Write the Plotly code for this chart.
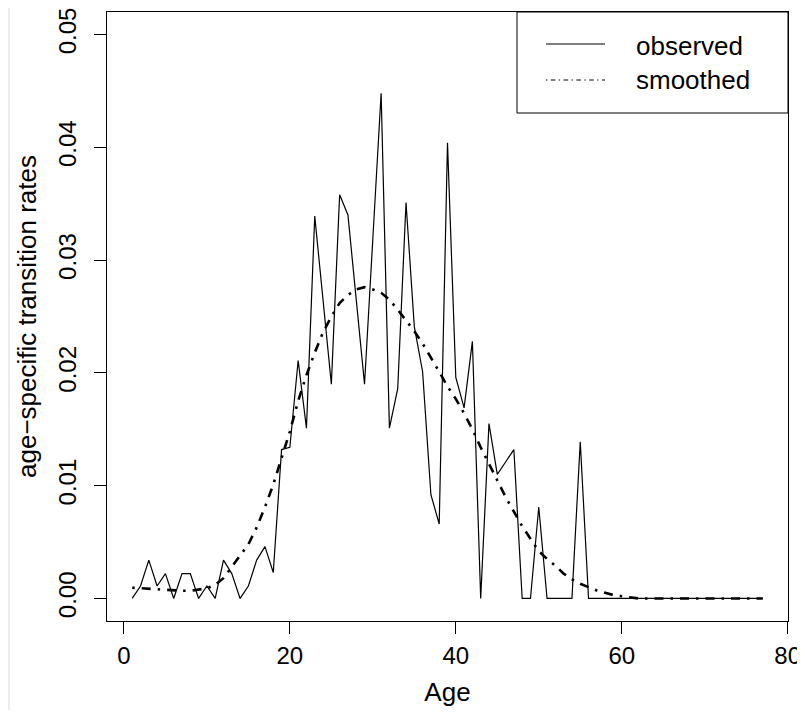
import plotly.graph_objects as go

# ---- data ----
ages = [1, 2, 3, 4, 5, 6, 7, 8, 9, 10, 11, 12, 13, 14, 15, 16, 17, 18, 19, 20,
        21, 22, 23, 24, 25, 26, 27, 28, 29, 30, 31, 32, 33, 34, 35, 36, 37, 38, 39, 40,
        41, 42, 43, 44, 45, 46, 47, 48, 49, 50, 51, 52, 53, 54, 55, 56, 57, 58, 59, 60,
        61, 62, 63, 64, 65, 66, 67, 68, 69, 70, 71, 72, 73, 74, 75, 76, 77]

observed = [0.0, 0.0011, 0.0034, 0.0011, 0.0022, 0.0, 0.0022, 0.0022, 0.0, 0.0011,
            0.0, 0.0034, 0.0022, 0.0, 0.0011, 0.0034, 0.0046, 0.0023, 0.0132, 0.0134,
            0.0211, 0.0151, 0.0339, 0.0265, 0.0190, 0.0358, 0.0340, 0.0265, 0.0190, 0.0319,
            0.0448, 0.0151, 0.0186, 0.0351, 0.0241, 0.0201, 0.0092, 0.0066, 0.0404, 0.0196,
            0.0169, 0.0228, 0.0, 0.0155, 0.0110, 0.0121, 0.0132, 0.0, 0.0, 0.0081,
            0.0, 0.0, 0.0, 0.0, 0.0139, 0.0, 0.0, 0.0, 0.0, 0.0,
            0.0, 0.0, 0.0, 0.0, 0.0, 0.0, 0.0, 0.0, 0.0, 0.0,
            0.0, 0.0, 0.0, 0.0, 0.0, 0.0, 0.0]

smoothed = [0.00095, 0.0009, 0.00085, 0.0008, 0.00075, 0.0007, 0.00068, 0.00068, 0.0008, 0.0009,
            0.0012, 0.0018, 0.0028, 0.0038, 0.0048, 0.0063, 0.0081, 0.0101, 0.0125, 0.0148,
            0.0175, 0.0198, 0.0218, 0.0236, 0.0250, 0.0262, 0.0269, 0.0274, 0.0276, 0.0274,
            0.0271, 0.0265, 0.0256, 0.0247, 0.0237, 0.0226, 0.0214, 0.0201, 0.0188, 0.0177,
            0.0164, 0.0150, 0.0134, 0.0119, 0.0105, 0.0090, 0.0077, 0.0064, 0.0053, 0.0042,
            0.0035, 0.0029, 0.0022, 0.0017, 0.0013, 0.0010, 0.0007, 0.0005, 0.0003, 0.0002,
            0.0001, 0.0, 0.0, 0.0, 0.0, 0.0, 0.0, 0.0, 0.0, 0.0,
            0.0, 0.0, 0.0, 0.0, 0.0, 0.0, 0.0]

x_ticks = [0, 20, 40, 60, 80]
y_ticks = [0.0, 0.01, 0.02, 0.03, 0.04, 0.05]
y_tick_labels = ["0.00", "0.01", "0.02", "0.03", "0.04", "0.05"]
series_names = ["observed", "smoothed"]

FONT = "Liberation Sans, Arial, Helvetica, sans-serif"
# the page adds an 8px body margin, so the figure is laid out 8px smaller/shifted
OFF = 8
W, H = 805 - OFF, 718 - 2 * OFF
ML, MR, MT = 107 - OFF, 17, 12 - OFF
MB = H - (621 - OFF)
PW, PH = W - ML - MR, H - MT - MB


def px_x(p):
    return (p - OFF - ML) / PW


def px_y(p):
    return (H - MB - (p - OFF)) / PH


fig = go.Figure()
fig.add_trace(go.Scatter(x=ages, y=observed, mode="lines", name=series_names[0],
                         line=dict(color="black", width=1.2), showlegend=False))
fig.add_trace(go.Scatter(x=ages, y=smoothed, mode="lines", name=series_names[1],
                         line=dict(color="black", width=2.6, dash="2.5px,7px,9px,7px"),
                         showlegend=False))

axis_common = dict(showgrid=False, zeroline=False, showline=True, mirror=True,
                   linecolor="black", linewidth=1, ticks="outside", ticklen=12,
                   tickwidth=1, tickcolor="black", automargin=False,
                   ticklabeloverflow="allow",
                   tickfont=dict(family=FONT, size=24, color="black"))

fig.update_xaxes(range=[-2.04, 80.04], tickvals=x_ticks, ticktext=[str(v) for v in x_ticks],
                 title=dict(text="Age", font=dict(family=FONT, size=26, color="black"), standoff=15),
                 ticklabelstandoff=1, **axis_common)
fig.update_yaxes(range=[-0.002, 0.052], tickvals=y_ticks, ticktext=y_tick_labels, tickangle=-90,
                 title=dict(text="age\u2212specific transition rates",
                            font=dict(family=FONT, size=26, color="black"), standoff=10),
                 ticklabelstandoff=8, **axis_common)

shapes = [
    # grey strip at far left of the picture
    dict(type="rect", xref="paper", yref="paper", x0=px_x(0), x1=px_x(10), y0=px_y(H + 20), y1=px_y(-5),
         fillcolor="#ececea", line=dict(width=0), layer="below"),
    # legend box
    dict(type="rect", xref="paper", yref="paper", x0=px_x(517), x1=1, y0=px_y(113), y1=1,
         fillcolor="white", line=dict(color="black", width=1)),
    dict(type="line", xref="paper", yref="paper", x0=px_x(546), x1=px_x(605), y0=px_y(44), y1=px_y(44),
         line=dict(color="black", width=1.2)),
    dict(type="line", xref="paper", yref="paper", x0=px_x(546), x1=px_x(605), y0=px_y(80), y1=px_y(80),
         line=dict(color="black", width=1, dash="1.3px,3.5px,4.5px,3.5px")),
]
annotations = [
    dict(text=series_names[0], xref="paper", yref="paper", x=px_x(634), y=px_y(46),
         xanchor="left", yanchor="middle", showarrow=False,
         font=dict(family=FONT, size=26, color="black")),
    dict(text=series_names[1], xref="paper", yref="paper", x=px_x(634), y=px_y(80),
         xanchor="left", yanchor="middle", showarrow=False,
         font=dict(family=FONT, size=26, color="black")),
]

fig.update_layout(width=W, height=H, margin=dict(l=ML, r=MR, t=MT, b=MB, pad=0),
                  paper_bgcolor="white", plot_bgcolor="white",
                  shapes=shapes, annotations=annotations, showlegend=False,
                  font=dict(family=FONT, color="black"))

fig.write_html("out.html")
